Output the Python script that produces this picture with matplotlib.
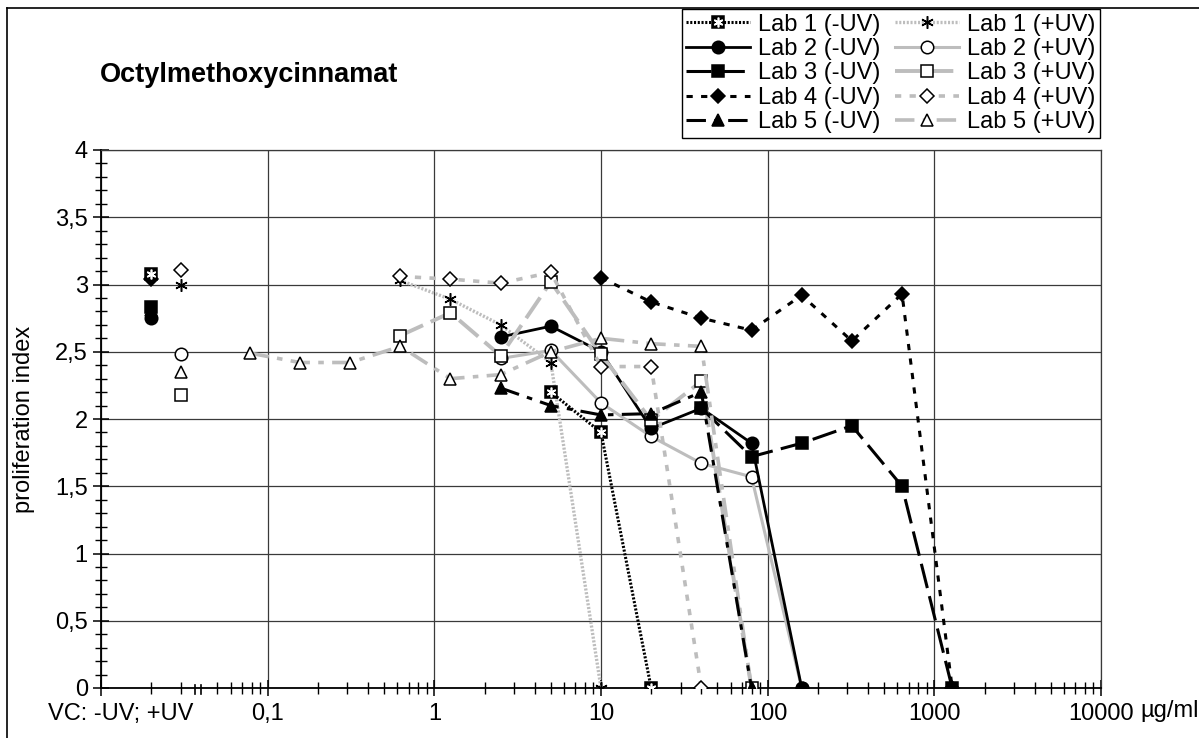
import matplotlib
matplotlib.use("Agg")
import matplotlib.pyplot as plt
from matplotlib.lines import Line2D
from matplotlib.ticker import FixedLocator, FuncFormatter, NullFormatter
from matplotlib.legend_handler import HandlerTuple

plt.rcParams["font.family"] = ["Liberation Sans", "DejaVu Sans"]
plt.rcParams["lines.scale_dashes"] = False

# vehicle controls (plotted left of the axis break)
vc_x_minus, vc_x_plus = 0.02, 0.03
vc_minus = [3.08, 2.75, 2.83, 3.04, 2.81]   # Lab 1..5, -UV
vc_plus = [3.00, 2.48, 2.18, 3.11, 2.35]    # Lab 1..5, +UV

# concentration series (µg/ml) and proliferation index
lab1_m_x = [5, 10, 20]
lab1_m_y = [2.20, 1.90, 0]
lab1_p_x = [0.625, 1.25, 2.5, 5, 10]
lab1_p_y = [3.03, 2.89, 2.70, 2.42, 0]
lab2_m_x = [2.5, 5, 10, 20, 40, 80, 160]
lab2_m_y = [2.61, 2.69, 2.50, 1.93, 2.08, 1.82, 0]
lab2_p_x = [2.5, 5, 10, 20, 40, 80, 160]
lab2_p_y = [2.45, 2.51, 2.12, 1.87, 1.67, 1.57, 0]
lab3_m_x = [40, 80, 160, 320, 640, 1280]
lab3_m_y = [2.08, 1.72, 1.82, 1.95, 1.50, 0]
lab3_p_x = [0.625, 1.25, 2.5, 5, 10, 20, 40, 80]
lab3_p_y = [2.62, 2.79, 2.47, 3.02, 2.48, 1.99, 2.28, 0]
lab4_m_x = [10, 20, 40, 80, 160, 320, 640, 1280]
lab4_m_y = [3.05, 2.87, 2.75, 2.66, 2.92, 2.58, 2.93, 0]
lab4_p_x = [0.625, 1.25, 2.5, 5, 10, 20, 40]
lab4_p_y = [3.06, 3.04, 3.01, 3.09, 2.39, 2.39, 0]
lab5_m_x = [2.5, 5, 10, 20, 40, 80]
lab5_m_y = [2.23, 2.10, 2.03, 2.04, 2.20, 0]
lab5_p_x = [0.078, 0.156, 0.3125, 0.625, 1.25, 2.5, 5, 10, 20, 40, 80]
lab5_p_y = [2.49, 2.42, 2.42, 2.54, 2.30, 2.33, 2.50, 2.60, 2.56, 2.54, 0]

x_ticks = [0.01, 0.1, 1, 10, 100, 1000, 10000]
x_labels = ["", "0,1", "1", "10", "100", "1000", "10000"]

GREY = "#bdbdbd"
DOT = (0, (1.5, 1.2))
SHORT = (0, (4.5, 6))
LONG = (0, (18, 6))
DASHDOT = (0, (14, 6, 4, 6))
STAR = (6, 2, 0)

# label, x, y, line colour, linestyle, lw, marker, marker face, ms
series = [
    ("Lab 1 (-UV)", lab1_m_x, lab1_m_y, "k", DOT, 2.2, "s", "k", 9),
    ("Lab 2 (-UV)", lab2_m_x, lab2_m_y, "k", "-", 2.0, "o", "k", 9),
    ("Lab 3 (-UV)", lab3_m_x, lab3_m_y, "k", LONG, 2.2, "s", "k", 9),
    ("Lab 4 (-UV)", lab4_m_x, lab4_m_y, "k", SHORT, 2.2, "D", "k", 7),
    ("Lab 5 (-UV)", lab5_m_x, lab5_m_y, "k", DASHDOT, 2.2, "^", "k", 9),
    ("Lab 1 (+UV)", lab1_p_x, lab1_p_y, GREY, DOT, 2.4, STAR, "k", 9),
    ("Lab 2 (+UV)", lab2_p_x, lab2_p_y, GREY, "-", 2.2, "o", "w", 9),
    ("Lab 3 (+UV)", lab3_p_x, lab3_p_y, GREY, LONG, 2.8, "s", "w", 9),
    ("Lab 4 (+UV)", lab4_p_x, lab4_p_y, GREY, SHORT, 2.6, "D", "w", 7),
    ("Lab 5 (+UV)", lab5_p_x, lab5_p_y, GREY, DASHDOT, 2.6, "^", "w", 9),
]

fig = plt.figure(figsize=(11.99, 7.38), dpi=100)
ax = fig.add_axes([101 / 1199, 1 - 688 / 738, 1000 / 1199, 538 / 738])

handles = {}
order = [5, 0, 6, 1, 7, 2, 8, 3, 9, 4]
for i in order:
    lab, xs, ys, col, ls, lw, mk, mf, ms = series[i]
    minus = i < 5
    vc = vc_minus[i % 5] if minus else vc_plus[i % 5]
    vx = vc_x_minus if minus else vc_x_plus
    mew = 1.1
    ln, = ax.plot(xs, ys, color=col, ls=ls, lw=lw, marker=mk, ms=ms,
                  mfc=mf, mec="k", mew=mew, zorder=3, label=lab)
    ax.plot([vx], [vc], ls="none", marker=mk, ms=ms, mfc=mf, mec="k",
            mew=mew, zorder=3)
    h = ln
    if i == 0:
        # black square with a white star on top
        star = dict(ls="none", marker=STAR, ms=7, mec="w", mew=1.2)
        ax.plot(xs, ys, zorder=4, **star)
        ax.plot([vx], [vc], zorder=4, **star)
        h = (ln, Line2D([], [], **star))
    handles[lab] = h

ax.set_xscale("log")
ax.set_xlim(0.01, 10000)
ax.set_ylim(0, 4)
ax.xaxis.set_major_locator(FixedLocator(x_ticks))
ax.xaxis.set_ticklabels(x_labels)
minor = [m * d for d in [0.01, 0.1, 1, 10, 100, 1000] for m in range(2, 10)]
minor = [v for v in minor if abs(v - 0.04) > 1e-9]
ax.xaxis.set_minor_locator(FixedLocator(minor))
ax.xaxis.set_minor_formatter(NullFormatter())
ax.yaxis.set_major_locator(FixedLocator([i * 0.5 for i in range(9)]))
ax.yaxis.set_minor_locator(FixedLocator([i * 0.1 for i in range(41)]))
ax.yaxis.set_major_formatter(FuncFormatter(lambda v, p: f"{v:g}".replace(".", ",")))

ax.tick_params(which="major", direction="inout", length=11, width=1.1,
               labelsize=17, color="k")
ax.tick_params(which="minor", direction="inout", length=8, width=1.0, color="k")
ax.tick_params(axis="x", which="major", pad=5)
ax.tick_params(axis="y", which="major", pad=4)
ax.grid(True, which="major", color="#3a3a3a", lw=0.9)
ax.set_axisbelow(True)
for s in ["left", "bottom"]:
    ax.spines[s].set_linewidth(1.3)
for s in ["top", "right"]:
    ax.spines[s].set_linewidth(0.9)
    ax.spines[s].set_color("#3a3a3a")

ax.set_ylabel("proliferation index", fontsize=17)
ax.yaxis.set_label_coords(-0.066, 0.5)

# axis break between controls and concentrations
for bx in [0.0365, 0.04]:
    ax.plot([bx, bx], [-0.045, 0.025], color="k", lw=1.2, clip_on=False, zorder=5)

ax.text(0.02, -0.028, "VC: -UV; +UV", transform=ax.transAxes, ha="center",
        va="top", fontsize=17)
ax.annotate("µg/ml", xy=(10000, 0), xycoords=("data", "axes fraction"),
            xytext=(28, -9), textcoords="offset points", ha="left", va="top",
            fontsize=17)

fig.text(100 / 1199, 1 - 75 / 738, "Octylmethoxycinnamat", fontsize=19.5,
         fontweight="bold", va="center", ha="left")

labels = ["Lab 1 (-UV)", "Lab 2 (-UV)", "Lab 3 (-UV)", "Lab 4 (-UV)", "Lab 5 (-UV)",
          "Lab 1 (+UV)", "Lab 2 (+UV)", "Lab 3 (+UV)", "Lab 4 (+UV)", "Lab 5 (+UV)"]
leg = fig.legend([handles[l] for l in labels], labels, ncol=2, loc="upper right",
                 bbox_to_anchor=(1100 / 1199, 1 - 9 / 738), fontsize=17,
                 frameon=True, fancybox=False, edgecolor="k", framealpha=1,
                 handlelength=2.7, handletextpad=0.35, columnspacing=0.6,
                 labelspacing=0.1, borderpad=0.2, borderaxespad=0,
                 handler_map={tuple: HandlerTuple(ndivide=1, pad=0)})
leg.get_frame().set_linewidth(1.0)

# outer chart frame
fig.add_artist(Line2D([7 / 1199, 7 / 1199], [0, 1 - 8 / 738], color="k", lw=1.2))
fig.add_artist(Line2D([7 / 1199, 1], [1 - 8 / 738, 1 - 8 / 738], color="k", lw=1.2))

fig.savefig("out.png", dpi=100)
